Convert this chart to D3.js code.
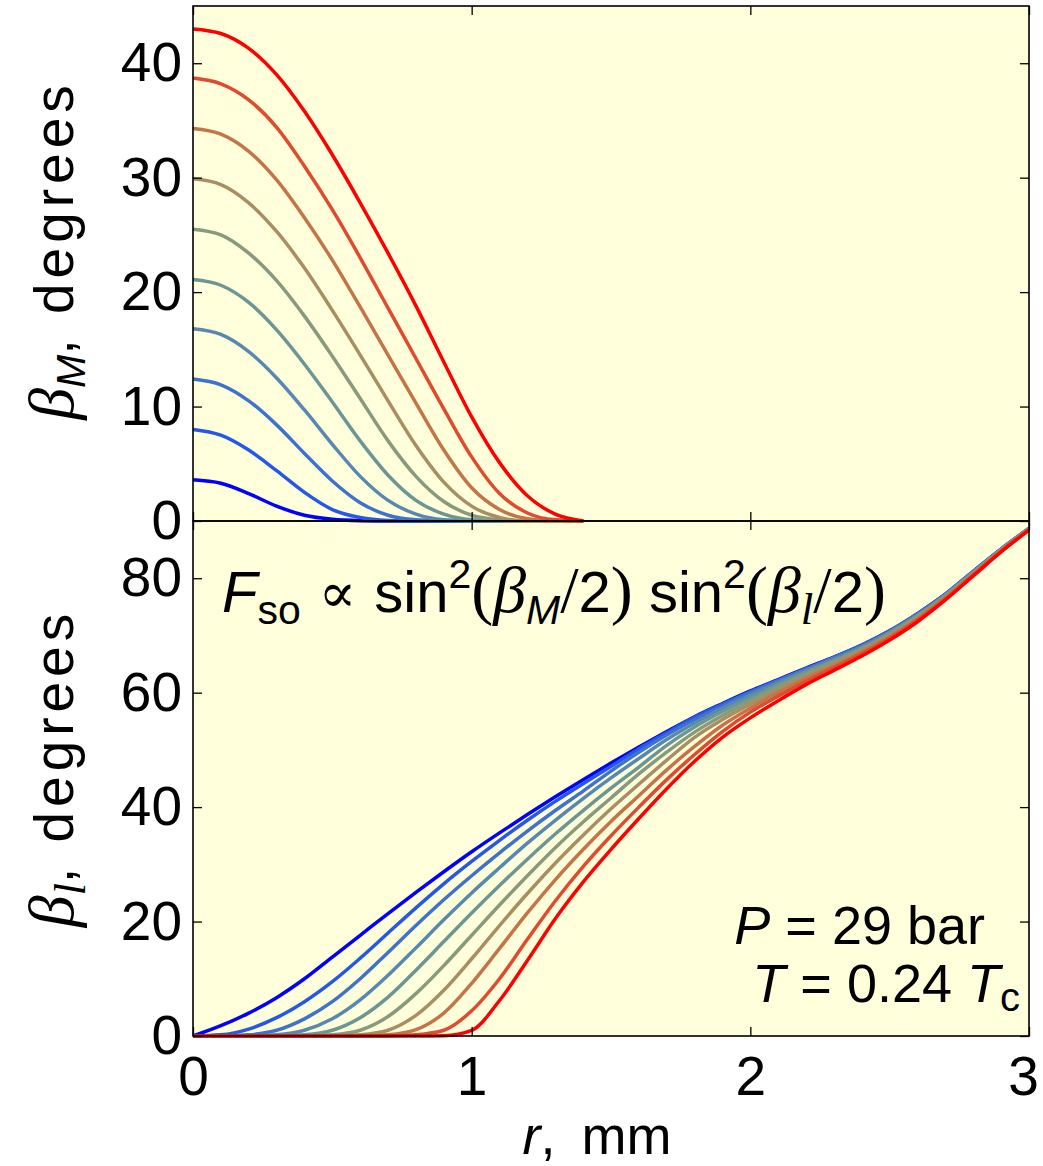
<!DOCTYPE html>
<html lang="en">
<head>
<meta charset="utf-8">
<title>beta M and beta l profiles</title>
<script src="https://cdn.jsdelivr.net/npm/d3@7"></script>
<style>
    body { margin: 0; background: #ffffff; }
    text { font-family: "Liberation Sans", Arial, sans-serif; fill: #000; }
</style>
</head>
<body>
<script>
    // r grid (mm) for the upper panel
    var rTop = [0, 0.1, 0.2, 0.3, 0.4, 0.5, 0.6, 0.7, 0.8, 0.9, 1.0, 1.1, 1.2, 1.3, 1.4];

    // beta_M (degrees), one list per curve, blue -> red
    var betaM1 = [3.6, 3.3, 2.4, 1.3, 0.5, 0.15, 0.03, 0, 0, 0, 0, 0, 0, 0, 0];
    var betaM2 = [8.0, 7.5, 6.2, 4.4, 2.5, 1.0, 0.3, 0.05, 0, 0, 0, 0, 0, 0, 0];
    var betaM3 = [12.4, 11.9, 10.5, 8.4, 5.9, 3.5, 1.6, 0.5, 0.1, 0, 0, 0, 0, 0, 0];
    var betaM4 = [16.8, 16.3, 14.8, 12.5, 9.7, 6.7, 3.9, 1.8, 0.6, 0.1, 0, 0, 0, 0, 0];
    var betaM5 = [21.1, 20.6, 19.1, 16.7, 13.7, 10.4, 7.0, 4.0, 1.8, 0.6, 0.1, 0, 0, 0, 0];
    var betaM6 = [25.5, 25.0, 23.4, 21.0, 17.9, 14.4, 10.7, 7.0, 3.9, 1.7, 0.5, 0.1, 0, 0, 0];
    var betaM7 = [29.9, 29.4, 27.8, 25.3, 22.1, 18.4, 14.5, 10.5, 6.6, 3.4, 1.3, 0.3, 0, 0, 0];
    var betaM8 = [34.3, 33.8, 32.3, 29.8, 26.5, 22.8, 18.7, 14.5, 10.3, 6.2, 2.9, 1.0, 0.2, 0, 0];
    var betaM9 = [38.7, 38.2, 36.8, 34.4, 31.0, 27.2, 23.0, 18.6, 14.2, 9.8, 5.6, 2.4, 0.7, 0.1, 0];
    var betaM10 = [43.0, 42.6, 41.3, 39.0, 35.8, 32.0, 27.8, 23.4, 18.8, 13.9, 9.1, 5.1, 2.2, 0.6, 0];

    // r grid (mm) for the lower panel, 0 .. 3 in steps of 0.1
    var rBot = [0, 0.1, 0.2, 0.3, 0.4, 0.5, 0.6, 0.7, 0.8, 0.9, 1.0, 1.1, 1.2, 1.3, 1.4, 1.5,
        1.6, 1.7, 1.8, 1.9, 2.0, 2.1, 2.2, 2.3, 2.4, 2.5, 2.6, 2.7, 2.8, 2.9, 3.0];

    // beta_l (degrees)
    var betaL1 = [0, 1.8, 4.0, 6.7, 10.0, 13.8, 17.6, 21.4, 25.1, 28.7, 32.2, 35.5, 38.7, 41.8, 44.8, 47.7,
        50.5, 53.2, 55.8, 58.1, 60.3, 62.3, 64.3, 66.2, 68.3, 70.8, 73.8, 77.2, 81.2, 85.1, 88.7];
    var betaL2 = [0, 0.2, 1.2, 3.2, 6.0, 9.5, 13.6, 18.0, 22.4, 26.6, 30.5, 34.2, 37.7, 41.0, 44.1, 47.1,
        50.2, 53.0, 55.7, 58.0, 60.2, 62.2, 64.2, 66.2, 68.3, 70.8, 73.8, 77.2, 81.2, 85.1, 88.7];
    var betaL3 = [0, 0, 0.2, 1.0, 3.0, 6.0, 10.0, 14.6, 19.3, 23.8, 28.0, 32.0, 35.8, 39.4, 42.8, 46.3,
        49.6, 52.6, 55.3, 57.7, 60.0, 62.1, 64.1, 66.1, 68.2, 70.7, 73.7, 77.1, 81.1, 85.1, 88.7];
    var betaL4 = [0, 0, 0, 0.2, 1.0, 3.0, 6.3, 10.6, 15.4, 20.3, 25.0, 29.4, 33.7, 37.7, 41.5, 45.1,
        48.5, 51.8, 54.7, 57.3, 59.6, 61.8, 63.9, 65.9, 68.0, 70.6, 73.6, 77.1, 81.1, 85.0, 88.7];
    var betaL5 = [0, 0, 0, 0, 0.2, 1.0, 3.2, 6.8, 11.5, 16.5, 21.5, 26.3, 30.9, 35.3, 39.4, 43.3,
        47.0, 50.8, 54.0, 56.7, 59.1, 61.4, 63.6, 65.6, 67.8, 70.4, 73.5, 77.0, 81.0, 85.0, 88.6];
    var betaL6 = [0, 0, 0, 0, 0, 0.2, 1.0, 3.4, 7.4, 12.3, 17.6, 22.9, 28.0, 32.9, 37.4, 41.6,
        45.8, 49.6, 53.1, 56.0, 58.6, 61.0, 63.3, 65.4, 67.6, 70.2, 73.3, 76.8, 80.9, 84.9, 88.6];
    var betaL7 = [0, 0, 0, 0, 0, 0, 0.2, 1.0, 3.6, 8.0, 13.5, 19.3, 24.9, 30.2, 35.1, 39.7,
        44.0, 48.2, 52.2, 55.3, 58.0, 60.5, 62.9, 65.1, 67.4, 70.0, 73.1, 76.7, 80.8, 84.9, 88.6];
    var betaL8 = [0, 0, 0, 0, 0, 0, 0, 0.2, 1.1, 4.0, 9.2, 15.3, 21.5, 27.3, 32.6, 37.5,
        42.0, 46.5, 50.6, 54.3, 57.3, 60.0, 62.5, 64.7, 67.1, 69.8, 72.9, 76.6, 80.7, 84.8, 88.5];
    var betaL9 = [0, 0, 0, 0, 0, 0, 0, 0, 0.2, 1.0, 4.4, 10.0, 16.9, 23.6, 29.6, 35.0,
        40.0, 44.8, 49.2, 53.2, 56.6, 59.4, 62.0, 64.4, 66.8, 69.5, 72.7, 76.4, 80.6, 84.7, 88.5];
    var betaL10 = [0, 0, 0, 0, 0, 0, 0, 0, 0, 0.05, 1.0, 6.2, 13.2, 20.5, 26.9, 32.6,
        38.0, 43.2, 48.0, 52.2, 55.6, 58.6, 61.4, 63.9, 66.4, 69.2, 72.4, 76.2, 80.4, 84.6, 88.4];

    var curveColors = ["#0000ff", "#2658e8", "#3e72cc", "#5888b0", "#6c9694", "#889a7c",
        "#a88e60", "#c47446", "#e04a2e", "#ff0000"];

    var xTicks = [0, 1, 2, 3];
    var topTicks = [0, 10, 20, 30, 40];
    var botTicks = [0, 20, 40, 60, 80];

    var betaM = [betaM1, betaM2, betaM3, betaM4, betaM5, betaM6, betaM7, betaM8, betaM9, betaM10];
    var betaL = [betaL1, betaL2, betaL3, betaL4, betaL5, betaL6, betaL7, betaL8, betaL9, betaL10];

    var w = 1043;
    var h = 1166;
    var left = 193, right = 1029;
    var top1 = 6, mid = 521, bot = 1036;
    var fs = 55; // tick label size
    var serif = "Liberation Serif, DejaVu Serif, serif";

    var svg = d3.select("body")
        .append("svg")
        .attr("width", w)
        .attr("height", h);

    var x = d3.scaleLinear().domain([0, 3]).range([left, right]);
    var yTop = d3.scaleLinear().domain([0, 45]).range([mid, top1]);
    var yBot = d3.scaleLinear().domain([0, 90]).range([bot, mid]);

    svg.append("rect")
        .attr("x", left).attr("y", top1)
        .attr("width", right - left).attr("height", bot - top1)
        .attr("fill", "#ffffdc");

    function drawCurves(rs, series, y) {
        var line = d3.line()
            .x(function(d, i) { return x(rs[i]); })
            .y(function(d) { return y(d); })
            .curve(d3.curveMonotoneX);
        svg.append("g").selectAll("path")
            .data(series)
            .enter()
            .append("path")
            .attr("d", line)
            .attr("fill", "none")
            .attr("stroke", function(d, i) { return curveColors[i]; })
            .attr("stroke-width", 3.5)
            .attr("stroke-linejoin", "round");
    }
    drawCurves(rTop, betaM, yTop);
    drawCurves(rBot, betaL, yBot);

    // axes: ticks point inward
    function styleAxis(g) {
        g.select(".domain").remove();
        g.selectAll(".tick line").attr("stroke", "#000").attr("stroke-width", 1.3);
        g.selectAll("text").attr("font-size", fs).attr("font-family", "Liberation Sans, Arial, sans-serif").attr("fill", "#000");
    }

    svg.append("g").attr("transform", "translate(" + left + ",0)")
        .call(d3.axisLeft(yTop).tickValues(topTicks).tickSize(-9).tickPadding(11).tickFormat(d3.format("d")))
        .call(styleAxis);
    svg.append("g").attr("transform", "translate(" + left + ",0)")
        .call(d3.axisLeft(yBot).tickValues(botTicks).tickSize(-9).tickPadding(11).tickFormat(d3.format("d")))
        .call(styleAxis);
    svg.append("g").attr("transform", "translate(" + right + ",0)")
        .call(d3.axisRight(yTop).tickValues(topTicks).tickSize(-9).tickFormat(""))
        .call(styleAxis);
    svg.append("g").attr("transform", "translate(" + right + ",0)")
        .call(d3.axisRight(yBot).tickValues(botTicks).tickSize(-9).tickFormat(""))
        .call(styleAxis);

    var xAxisG = svg.append("g").attr("transform", "translate(0," + bot + ")")
        .call(d3.axisBottom(x).tickValues(xTicks).tickSize(-9).tickPadding(20).tickFormat(d3.format("d")))
        .call(styleAxis);
    // keep the last label inside the page
    xAxisG.selectAll(".tick text").filter(function(d) { return d === 3; }).attr("dx", -6);

    svg.append("g").attr("transform", "translate(0," + top1 + ")")
        .call(d3.axisTop(x).tickValues(xTicks).tickSize(-9).tickFormat(""))
        .call(styleAxis);
    svg.append("g").attr("transform", "translate(0," + mid + ")")
        .call(d3.axisTop(x).tickValues(xTicks).tickSize(-9).tickFormat(""))
        .call(styleAxis);
    svg.append("g").attr("transform", "translate(0," + mid + ")")
        .call(d3.axisBottom(x).tickValues(xTicks).tickSize(-9).tickFormat(""))
        .call(styleAxis);

    // frames
    [[top1, mid], [mid, bot]].forEach(function(p) {
        svg.append("rect")
            .attr("x", left).attr("y", p[0])
            .attr("width", right - left).attr("height", p[1] - p[0])
            .attr("fill", "none").attr("stroke", "#000").attr("stroke-width", 1.6);
    });

    // y label (rotated)
    function yLabel(cx, cy, sub) {
        var t = svg.append("text")
            .attr("transform", "translate(" + cx + "," + cy + ") rotate(-90)")
            .attr("text-anchor", "middle")
            .attr("font-size", 55);
        t.append("tspan").attr("font-family", serif).attr("font-style", "italic").attr("font-size", 64).text("β");
        var s = t.append("tspan").attr("font-style", "italic").attr("dy", 12).attr("font-size", 40).text(sub);
        if (sub === "l") s.attr("font-family", serif).attr("font-size", 44);
        t.append("tspan").attr("dy", -12).attr("letter-spacing", 5).text(",  degrees");
    }
    yLabel(73, 250, "M");
    yLabel(73, 768, "l");

    // x label
    var xl = svg.append("text")
        .attr("x", 597).attr("y", 1154)
        .attr("text-anchor", "middle")
        .attr("font-size", 54);
    xl.append("tspan").attr("font-style", "italic").text("r");
    xl.append("tspan").text(",\u2009 mm");

    // formula
    var f = svg.append("text").attr("x", 222).attr("y", 612).attr("font-size", 58);
    f.append("tspan").attr("font-style", "italic").text("F");
    f.append("tspan").attr("font-size", 41).attr("dy", 12).text("so");
    f.append("tspan").attr("dy", -12).attr("font-family", "DejaVu Serif, serif").attr("font-size", 56).text(" ∝ ");
    f.append("tspan").text("sin");
    f.append("tspan").attr("font-size", 41).attr("dy", -24).text("2");
    f.append("tspan").attr("dy", 24).attr("font-family", serif).attr("font-size", 66).text("(");
    f.append("tspan").attr("font-family", serif).attr("font-style", "italic").attr("font-size", 66).text("β");
    f.append("tspan").attr("font-style", "italic").attr("font-size", 41).attr("dy", 12).text("M");
    f.append("tspan").attr("dy", -12).attr("font-family", serif).attr("font-size", 66).text("/");
    f.append("tspan").text("2");
    f.append("tspan").attr("font-family", serif).attr("font-size", 66).text(")");
    f.append("tspan").text(" sin");
    f.append("tspan").attr("font-size", 41).attr("dy", -24).text("2");
    f.append("tspan").attr("dy", 24).attr("font-family", serif).attr("font-size", 66).text("(");
    f.append("tspan").attr("font-family", serif).attr("font-style", "italic").attr("font-size", 66).text("β");
    f.append("tspan").attr("font-family", serif).attr("font-style", "italic").attr("font-size", 45).attr("dy", 12).text("l");
    f.append("tspan").attr("dy", -12).attr("font-family", serif).attr("font-size", 66).text("/");
    f.append("tspan").text("2");
    f.append("tspan").attr("font-family", serif).attr("font-size", 66).text(")");

    // parameters
    var p1 = svg.append("text").attr("x", 985).attr("y", 944).attr("text-anchor", "end").attr("font-size", 54);
    p1.append("tspan").attr("font-style", "italic").text("P");
    p1.append("tspan").text(" = 29 bar");
    var p2 = svg.append("text").attr("x", 1020).attr("y", 1002).attr("text-anchor", "end").attr("font-size", 54);
    p2.append("tspan").attr("font-style", "italic").text("T");
    p2.append("tspan").text(" = 0.24 ");
    p2.append("tspan").attr("font-style", "italic").text("T");
    p2.append("tspan").attr("font-size", 40).attr("dy", 9).text("c");
</script>
</body>
</html>
